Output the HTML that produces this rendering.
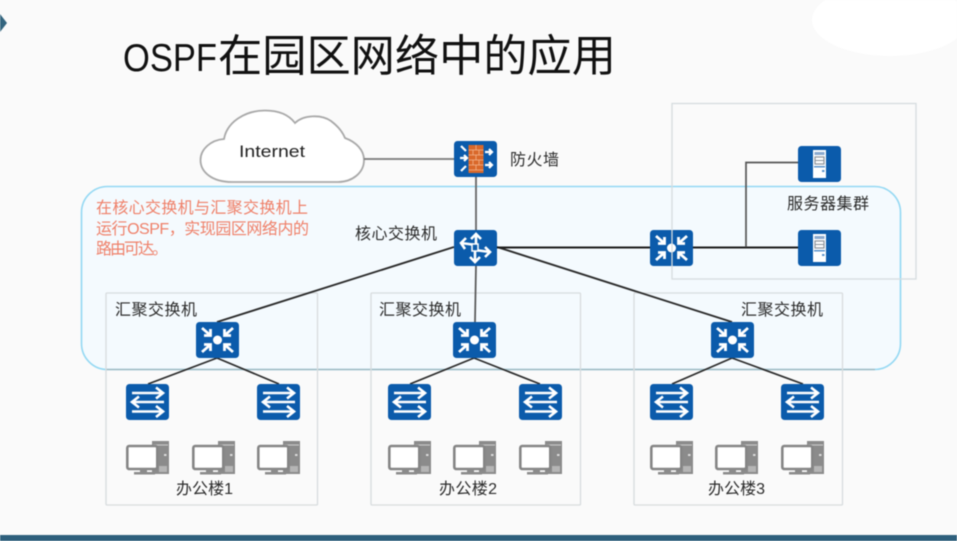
<!DOCTYPE html>
<html>
<head>
<meta charset="utf-8">
<style>
html,body{margin:0;padding:0;background:#fafafa;width:957px;height:541px;overflow:hidden}
svg{display:block;filter:blur(0.45px)}
text{font-family:"Liberation Sans","Noto Sans CJK SC",sans-serif;fill:#2c2c2c;font-size:16px}
</style>
</head>
<body>
<svg width="957" height="541" viewBox="0 0 957 541" xmlns="http://www.w3.org/2000/svg">
<defs>
<symbol id="agg" viewBox="0 0 43 36" width="43" height="36">
<rect width="43" height="36" rx="3.500" fill="#0b5bab"/>
<circle cx="21.500" cy="18" r="4.500" fill="#fff"/>
<g stroke="#fff" stroke-width="2.800" fill="none">
<path d="M6 6L14 13M8 13.500H14.500V7"/>
<path d="M37 6L29 13M35 13.500H28.500V7"/>
<path d="M6 30L14 23M8 22.500H14.500V29"/>
<path d="M37 30L29 23M35 22.500H28.500V29"/>
</g>
</symbol>
<symbol id="acc" viewBox="0 0 43 36" width="43" height="36">
<rect width="43" height="36" rx="3.500" fill="#0b5bab"/>
<g stroke="#fff" stroke-width="2.600" fill="none">
<path d="M6 9H37M30 3.500L37 9L30 14.500"/>
<path d="M38 18H6M13 12.500L6 18L13 23.500"/>
<path d="M6 27.500H37M30 22L37 27.500L30 33"/>
</g>
</symbol>
<symbol id="core" viewBox="0 0 43 36" width="43" height="36">
<rect width="43" height="36" rx="3.500" fill="#0b5bab"/>
<g stroke="#fff" stroke-width="2.600" fill="none">
<path d="M22 18V4M17 9L22 4L27 9"/>
<path d="M21 18V32M16 27L21 32L26 27"/>
<path d="M22 15L7 13M12 8L7 13L11 19"/>
<path d="M21 20L36 22M31 17L36 22L31 27"/>
</g>
<rect x="18" y="14" width="6" height="7" fill="#0b5bab" stroke="#fff" stroke-width="1.500"/>
</symbol>
<symbol id="fw" viewBox="0 0 43 36" width="43" height="36">
<rect width="43" height="36" rx="3.500" fill="#0b5bab"/>
<rect x="14.500" y="4" width="15" height="28" fill="#d9682a"/>
<g stroke="#f3b48c" stroke-width="0.800" fill="none">
<path d="M14.500 9H29.500M14.500 14H29.500M14.500 19H29.500M14.500 24H29.500M14.500 29H29.500M22 4V9M19 9V14M25 9V14M22 14V19M19 19V24M25 19V24M22 24V29"/>
</g>
<g stroke="#fff" stroke-width="2.200" fill="none">
<path d="M7 5L12 10M6 17H13M10 14L13 17L10 20M7 30L12 25"/>
<path d="M31 11H38M35 8L38 11L35 14M31 24H38M35 21L38 24L35 27"/>
</g>
</symbol>
<symbol id="srv" viewBox="0 0 43 36" width="43" height="36">
<rect width="43" height="36" rx="3.500" fill="#0b5bab"/>
<rect x="15" y="4" width="13" height="28" fill="#fff"/>
<rect x="16.500" y="6" width="10" height="3" fill="#8aa9cf"/>
<rect x="17" y="11" width="9" height="7" fill="none" stroke="#8a9199" stroke-width="1.200"/>
<path d="M17 14.500H26" stroke="#8a9199" stroke-width="1"/>
<rect x="16" y="20" width="11" height="1.500" fill="#5b93cc"/>
<rect x="24" y="24" width="2.500" height="2" fill="#5b93cc"/>
</symbol>
<symbol id="pc" viewBox="0 0 43 34" width="43" height="34">
<rect x="26" y="0" width="17" height="33" fill="#8b8b8b"/>
<rect x="27" y="3.500" width="15" height="1" fill="#cfcfcf"/>
<rect x="38" y="13" width="2.500" height="2" fill="#dcdcdc"/>
<rect x="33" y="25" width="8" height="6" fill="#b5b5b5"/>
<rect x="1.300" y="5" width="30" height="23" rx="2" fill="#fff" stroke="#858585" stroke-width="2.600"/>
<rect x="14" y="28" width="7" height="3" fill="#8b8b8b"/>
<rect x="8" y="31" width="21" height="2.500" fill="#8b8b8b"/>
</symbol>
</defs>

<rect width="957" height="541" fill="#fafafa"/>
<ellipse cx="890" cy="20" rx="78" ry="36" fill="#ffffff"/>
<path d="M0 14L7 23L0 32Z" fill="#33657f"/>
<rect x="0" y="535" width="957" height="6" fill="#2e5f7c"/>

<text x="123" y="71" style="font-size:39px;fill:#111" textLength="94" lengthAdjust="spacingAndGlyphs">OSPF</text>
<text x="218" y="71" style="font-size:44px;fill:#111" textLength="398" lengthAdjust="spacingAndGlyphs">在园区网络中的应用</text>

<rect x="81.500" y="186.500" width="819" height="183" rx="26" fill="#f4fafe" stroke="#93d8f3" stroke-width="1.600"/>
<path d="M106 369.500H875" stroke="#9fb6bd" stroke-width="1.200" fill="none"/>

<g fill="none" stroke="#d8dcde" stroke-width="1.300">
<rect x="106" y="293" width="211.500" height="212" rx="1"/>
<rect x="371" y="293" width="209.500" height="212" rx="1"/>
<rect x="634" y="293" width="208.500" height="212" rx="1"/>
</g>

<path d="M200.500 160C200.500 149 211 140 224 139C227 122 245 110.500 265 110.500C279 110.500 289 115 295 123C303 115 321 114 331 121C339 127 343 133 345 138C356 142 364 150 364 160C364 173 352 182 338 182H232C212 182 200.500 172 200.500 160Z" fill="#fff" stroke="#a9a9a9" stroke-width="1.800"/>
<text x="239" y="157" style="font-size:17px;fill:#222" textLength="66" lengthAdjust="spacingAndGlyphs">Internet</text>

<g fill="none" stroke="#2a2a2a" stroke-width="1.700">
<path d="M364 159H454" stroke="#777"/>
<path d="M476 176V230" stroke="#666" stroke-width="1.800"/>
<path d="M454 247L217 322" stroke-width="1.900"/>
<path d="M476 265L475 322" stroke="#555"/>
<path d="M497 247L732 322" stroke-width="1.900"/>
<path d="M497 247.500H650M693 247.500H798" stroke="#1c1c1c" stroke-width="2.100"/>
<path d="M746 247V162.500H798" stroke="#555"/>
<path d="M148 384L217 358L279 384"/>
<path d="M410 384L474 358L540 384"/>
<path d="M672 384L732 358L803 384"/>
</g>

<use href="#fw" x="454" y="141"/>
<use href="#core" x="454" y="230"/>
<use href="#agg" x="650" y="230"/>
<use href="#srv" x="798" y="146"/>
<use href="#srv" x="798" y="230"/>
<use href="#agg" x="196" y="322"/>
<use href="#agg" x="453" y="322"/>
<use href="#agg" x="711" y="322"/>

<use href="#acc" x="126" y="384"/>
<use href="#acc" x="257" y="384"/>
<use href="#acc" x="388" y="384"/>
<use href="#acc" x="519" y="384"/>
<use href="#acc" x="650" y="384"/>
<use href="#acc" x="781" y="384"/>

<use href="#pc" x="126" y="441"/>
<use href="#pc" x="192" y="441"/>
<use href="#pc" x="257" y="441"/>
<use href="#pc" x="388" y="441"/>
<use href="#pc" x="453" y="441"/>
<use href="#pc" x="519" y="441"/>
<use href="#pc" x="650" y="441"/>
<use href="#pc" x="715" y="441"/>
<use href="#pc" x="781" y="441"/>

<rect x="672" y="103.500" width="244" height="175.500" fill="none" stroke="#d6dcdf" stroke-width="1.300"/>

<g>
<text x="510" y="165" textLength="49">防火墙</text>
<text x="355" y="239" textLength="82">核心交换机</text>
<text x="787" y="209" textLength="82">服务器集群</text>
<text x="115" y="315" textLength="82">汇聚交换机</text>
<text x="379" y="315" textLength="82">汇聚交换机</text>
<text x="741" y="315" textLength="82">汇聚交换机</text>
<text x="176" y="494" textLength="57">办公楼1</text>
<text x="439" y="494" textLength="58">办公楼2</text>
<text x="708" y="494" textLength="57">办公楼3</text>
</g>

<g>
<text x="96" y="213" style="fill:#ef8069;font-size:16px" textLength="212">在核心交换机与汇聚交换机上</text>
<text x="96" y="234" style="fill:#ef8069;font-size:16px" textLength="213">运行OSPF，实现园区网络内的</text>
<text x="96" y="254" style="fill:#ef8069;font-size:16px" textLength="72">路由可达。</text>
</g>
</svg>
</body>
</html>
